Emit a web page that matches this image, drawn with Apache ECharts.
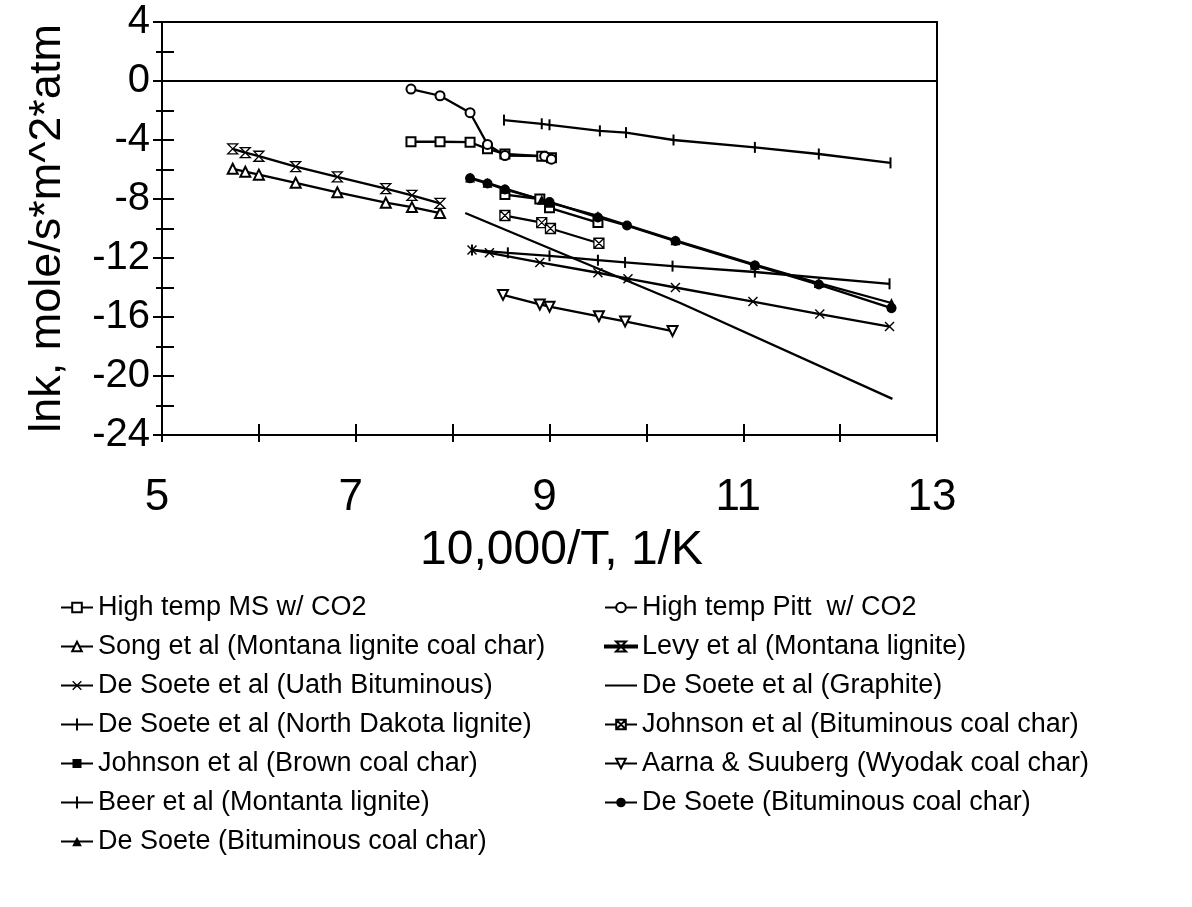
<!DOCTYPE html>
<html><head><meta charset="utf-8">
<script src="https://cdn.jsdelivr.net/npm/echarts@6.0.0/dist/echarts.min.js"></script>
<style>html,body{margin:0;padding:0;background:#fff}#c{width:1192px;height:907px}</style>
</head><body><div id="c"></div><script>
// ---- data (x = 10,000/T in 1/K, y = ln k) ----
const xMS = [7.57, 7.87, 8.18, 8.36, 8.54, 8.92, 9.02];
const yMS = [-4.12, -4.12, -4.15, -4.6, -4.95, -5.1, -5.2];
const xPitt = [7.57, 7.87, 8.18, 8.36, 8.54, 8.95, 9.02];
const yPitt = [-0.55, -1.0, -2.15, -4.3, -5.05, -5.1, -5.3];
const xSong = [5.73, 5.86, 6.0, 6.38, 6.81, 7.31, 7.58, 7.87];
const ySong = [-5.95, -6.15, -6.35, -6.9, -7.55, -8.25, -8.55, -8.95];
const xLevy = [5.73, 5.86, 6.0, 6.38, 6.81, 7.31, 7.58, 7.87];
const yLevy = [-4.6, -4.85, -5.1, -5.8, -6.5, -7.3, -7.75, -8.3];
const xUath = [8.2, 8.38, 8.9, 9.5, 9.81, 10.3, 11.1, 11.79, 12.51];
const yUath = [-11.45, -11.65, -12.3, -13.0, -13.4, -14.0, -14.95, -15.8, -16.65];
const xGraphite = [8.13, 10.35, 12.54];
const yGraphite = [-8.95, -15.05, -21.55];
const xND = [8.2, 8.57, 9.0, 9.5, 9.78, 10.27, 11.12, 12.51];
const yND = [-11.45, -11.65, -11.85, -12.15, -12.3, -12.55, -12.95, -13.75];
const xJohnBit = [8.54, 8.92, 9.01, 9.51];
const yJohnBit = [-9.12, -9.6, -10.0, -11.0];
const xJohnBrown = [8.54, 8.9, 9.0, 9.5];
const yJohnBrown = [-7.7, -8.0, -8.6, -9.6];
const xAarna = [8.52, 8.9, 9.0, 9.51, 9.78, 10.27];
const yAarna = [-14.5, -15.15, -15.3, -15.95, -16.3, -16.95];
const xBeer = [8.53, 8.92, 9.0, 9.52, 9.79, 10.28, 11.12, 11.78, 12.52];
const yBeer = [-2.65, -2.9, -2.97, -3.38, -3.5, -4.0, -4.5, -4.95, -5.55];
const xDSCircle = [8.18, 8.36, 8.54, 9.0, 9.5, 9.8, 10.3, 11.12, 11.78, 12.53];
const yDSCircle = [-6.6, -6.95, -7.35, -8.2, -9.25, -9.8, -10.85, -12.5, -13.8, -15.4];
const xDSTri = [8.18, 8.36, 8.54, 8.92, 9.0, 9.5, 10.3, 11.12, 11.78, 12.53];
const yDSTri = [-6.55, -6.9, -7.3, -8.05, -8.25, -9.15, -10.8, -12.45, -13.7, -15.05];

const xTickLabels = [5, 7, 9, 11, 13];
const names = {
  ms: 'High temp MS w/ CO2',
  pitt: 'High temp Pitt  w/ CO2',
  song: 'Song et al (Montana lignite coal char)',
  levy: 'Levy et al (Montana lignite)',
  uath: 'De Soete et al (Uath Bituminous)',
  graphite: 'De Soete et al (Graphite)',
  nd: 'De Soete et al (North Dakota lignite)',
  johnBit: 'Johnson et al (Bituminous coal char)',
  johnBrown: 'Johnson et al (Brown coal char)',
  aarna: 'Aarna & Suuberg (Wyodak coal char)',
  beer: 'Beer et al (Montanta lignite)',
  dsCircle: 'De Soete (Bituminous coal char)',
  dsTri: 'De Soete (Bituminous coal char)\u200B'
};

const zip = (xs, ys) => xs.map((x, i) => [x, ys[i]]);
const TICK = 'path://M0,0h2v20h-2z';
const XMARK = 'path://M0,1L1,0L5,4L9,0L10,1L6,5L10,9L9,10L5,6L1,10L0,9L4,5Z';
const HOURGLASS = 'path://M0,0H10L0,10H10Z';
const BOXX = 'path://M0,0H10V10H0Z M0,0L10,10 M10,0L0,10';
// legend icons (line stub + marker)
const ICON_LINE = 'path://M0,5h32v2h-32z';
const ICON_TICK = 'path://M0,5h32v2h-32z M15,0h2v12h-2z';
const ICON_FILLSQ = 'path://M0,5h32v2h-32z M11.5,1.5h9v9h-9z';
const ICON_HOURGLASS = 'path://M0,5h32v2h-32z M11,1H21L16,6L21,11H11L16,6Z';

function ser(name, xs, ys, symbol, size, opts) {
  opts = opts || {};
  return Object.assign({
    type: 'line', name: name, data: zip(xs, ys),
    symbol: symbol, symbolSize: size, showSymbol: symbol !== 'none',
    lineStyle: { color: '#000', width: 2.3 },
    itemStyle: opts.item || { color: '#000' },
    symbolRotate: opts.rotate || 0,
    animation: false, z: 3
  }, opts.extra || {});
}

const openItem = { color: '#fff', borderColor: '#000', borderWidth: 1.3 };
const series = [
  ser(names.ms, xMS, yMS, 'emptyRect', 9, { extra: {
    markLine: { silent: true, symbol: ['none', 'none'], label: { show: false },
      lineStyle: { color: '#000', width: 2, type: 'solid' }, data: [{ yAxis: 0 }] } } }),
  ser(names.pitt, xPitt, yPitt, 'emptyCircle', 9),
  ser(names.song, xSong, ySong, 'emptyTriangle', 10),
  ser(names.levy, xLevy, yLevy, HOURGLASS, [10, 10], { item: openItem }),
  ser(names.uath, xUath, yUath, XMARK, 10),
  ser(names.graphite, xGraphite, yGraphite, 'none', 0),
  ser(names.nd, xND, yND, TICK, [2, 11]),
  ser(names.johnBit, xJohnBit, yJohnBit, BOXX, [10, 10], { item: openItem }),
  ser(names.johnBrown, xJohnBrown, yJohnBrown, 'emptyRect', 9),
  ser(names.aarna, xAarna, yAarna, 'emptyTriangle', 10, { rotate: 180 }),
  ser(names.beer, xBeer, yBeer, TICK, [2, 11]),
  ser(names.dsCircle, xDSCircle, yDSCircle, 'circle', 10),
  ser(names.dsTri, xDSTri, yDSTri, 'triangle', 10)
];

const FONT = "'Liberation Sans', Arial, sans-serif";
const legendBase = {
  orient: 'vertical', top: 594, padding: 0, itemGap: 12, itemWidth: 32, itemHeight: 12,
  textStyle: { fontSize: 27, color: '#000', fontFamily: FONT },
  selectedMode: false, symbolKeepAspect: true
};

const option = {
  backgroundColor: '#fff',
  animation: false,
  grid: { left: 162, right: 255, top: 22, bottom: 472, show: true, borderColor: '#000', borderWidth: 2, containLabel: false, outerBoundsMode: 'none' },
  legend: [
    Object.assign({}, legendBase, { left: 60,
      data: [names.ms, names.song, names.uath, { name: names.nd, icon: ICON_TICK },
        { name: names.johnBrown, icon: ICON_FILLSQ }, { name: names.beer, icon: ICON_TICK }, names.dsTri] }),
    Object.assign({}, legendBase, { left: 604,
      data: [names.pitt, { name: names.levy, icon: ICON_HOURGLASS }, { name: names.graphite, icon: ICON_LINE },
        names.johnBit, names.aarna, names.dsCircle] })
  ],
  xAxis: [{
    type: 'value', min: 5, max: 13, interval: 1,
    axisLine: { onZero: false, lineStyle: { color: '#000', width: 2 } },
    axisTick: { length: 7, lineStyle: { color: '#000', width: 2 } },
    axisLabel: { color: '#000', fontSize: 44, fontFamily: FONT, margin: 41, padding: [0, 10, 0, 0],
      formatter: v => (xTickLabels.indexOf(v) >= 0 ? String(v) : '') },
    splitLine: { show: false },
    name: '10,000/T, 1/K', nameLocation: 'middle', nameGap: 92,
    nameTextStyle: { color: '#000', fontSize: 48, fontFamily: FONT, padding: [0, 0, 0, 24] }
  }, {
    type: 'value', min: 5, max: 13, interval: 1, position: 'bottom',
    axisLine: { show: false, onZero: false },
    axisTick: { inside: true, length: 11, lineStyle: { color: '#000', width: 2 } },
    axisLabel: { show: false }, splitLine: { show: false }
  }],
  yAxis: [{
    type: 'value', min: -24, max: 4, interval: 4,
    axisLine: { onZero: false, lineStyle: { color: '#000', width: 2 } },
    axisTick: { length: 9, lineStyle: { color: '#000', width: 2 } },
    minorTick: { show: true, splitNumber: 2, length: 6, lineStyle: { color: '#000', width: 2 } },
    axisLabel: { color: '#000', fontSize: 40, fontFamily: FONT, margin: 12 },
    splitLine: { show: false },
    name: 'lnk, mole/s*m^2*atm', nameLocation: 'middle', nameGap: 92,
    nameTextStyle: { color: '#000', fontSize: 45, fontFamily: FONT }
  }, {
    type: 'value', min: -24, max: 4, interval: 4, position: 'left',
    axisLine: { show: false, onZero: false },
    axisTick: { inside: true, length: 12, lineStyle: { color: '#000', width: 2 } },
    minorTick: { show: true, splitNumber: 2, length: 12, lineStyle: { color: '#000', width: 2 } },
    axisLabel: { show: false }, splitLine: { show: false }
  }],
  series: series
};

const chart = echarts.init(document.getElementById('c'), null, { renderer: 'canvas' });
chart.setOption(option);
</script></body></html>
